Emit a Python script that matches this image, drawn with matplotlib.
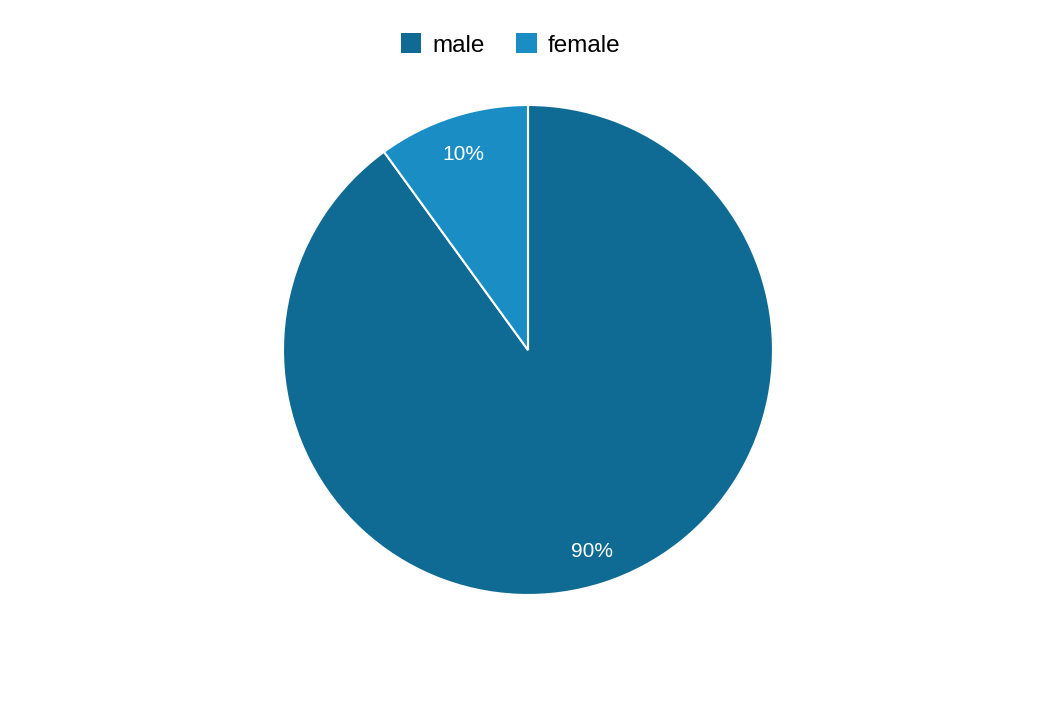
import matplotlib.pyplot as plt
import matplotlib.transforms as mtransforms
from matplotlib.patches import Patch

plt.rcParams['font.family'] = ['Liberation Sans', 'DejaVu Sans']

# данные
labels = ["male", "female"]
shares = [90, 10]
colors = ["#106b94", "#1a8dc5"]

fig = plt.figure(figsize=(10.6, 7.12), dpi=100)
# центр круга ~ (528, 350) px, радиус ~245 px
ax = fig.add_axes([(528 - 245) / 1060, (712 - 595) / 712, 490 / 1060, 490 / 712])

wedges, texts, autotexts = ax.pie(
    shares, colors=colors, startangle=90, counterclock=False,
    autopct="%1.0f%%", pctdistance=0.85, radius=1.0,
    wedgeprops=dict(edgecolor="white", linewidth=1.5),
    textprops=dict(color="white", fontsize=15),
)
# подписи чуть ниже
shift = mtransforms.ScaledTranslation(0, -3 / 100, fig.dpi_scale_trans)
for t in autotexts:
    t.set_transform(t.get_transform() + shift)

ax.set_xlim(-1, 1)
ax.set_ylim(-1, 1)
ax.set_aspect("equal")

handles = [Patch(facecolor=c, edgecolor="none") for c in colors]
fig.legend(handles, labels, loc="center", bbox_to_anchor=(510.5 / 1060, 1 - 45 / 712),
           ncol=2, frameon=False, fontsize=17.5, handlelength=0.85, handleheight=0.85,
           handletextpad=0.45, columnspacing=1.3)

fig.savefig("out.png", dpi=100)
